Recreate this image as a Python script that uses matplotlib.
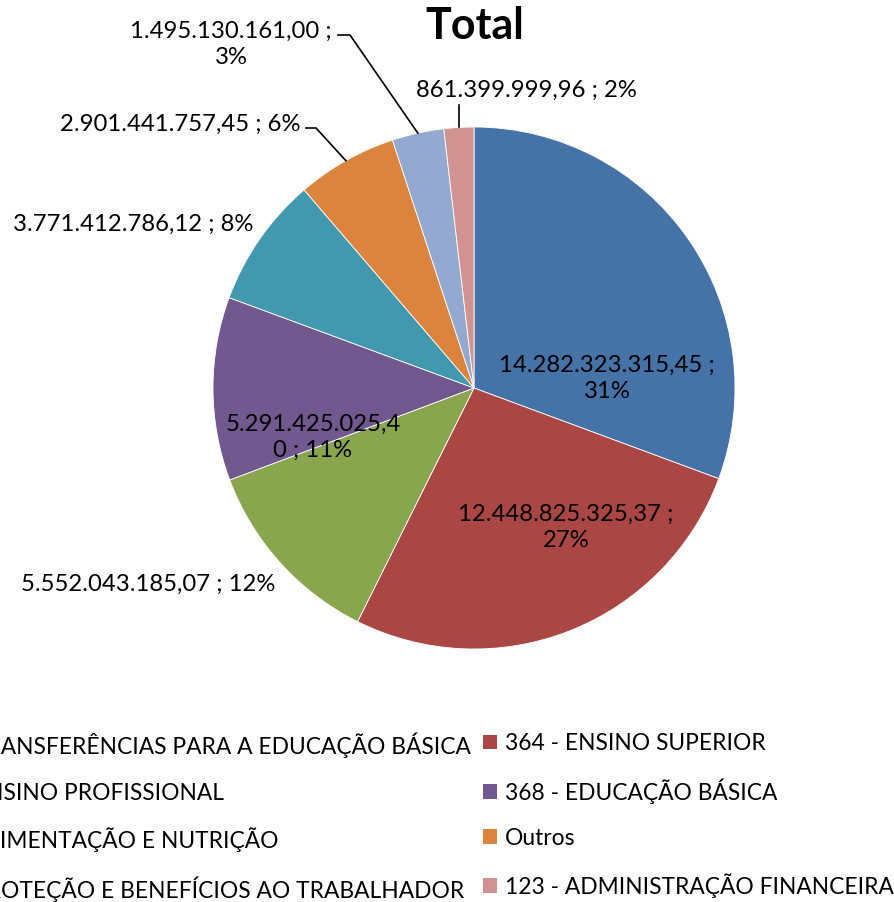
import matplotlib
matplotlib.use("Agg")
import matplotlib.pyplot as plt
from matplotlib.patches import Patch
import numpy as np

plt.rcParams['font.family'] = ['Lato', 'DejaVu Sans']

categories = [
    "847 - TRANSFERÊNCIAS PARA A EDUCAÇÃO BÁSICA",
    "364 - ENSINO SUPERIOR",
    "363 - ENSINO PROFISSIONAL",
    "368 - EDUCAÇÃO BÁSICA",
    "306 - ALIMENTAÇÃO E NUTRIÇÃO",
    "Outros",
    "331 - PROTEÇÃO E BENEFÍCIOS AO TRABALHADOR",
    "123 - ADMINISTRAÇÃO FINANCEIRA",
]
values = [14282323315.45, 12448825325.37, 5552043185.07, 5291425025.40,
          3771412786.12, 2901441757.45, 1495130161.00, 861399999.96]
value_labels = ["14.282.323.315,45 ;\n31%", "12.448.825.325,37 ;\n27%",
                "5.552.043.185,07 ; 12%", "5.291.425.025,4\n0 ; 11%",
                "3.771.412.786,12 ; 8%", "2.901.441.757,45 ; 6%",
                "1.495.130.161,00 ;\n3%", "861.399.999,96 ; 2%"]
colors = ['#4572A7', '#AA4643', '#89A54E', '#71588F',
          '#4198AF', '#DB843D', '#93A9CF', '#D19392']

W, H = 895, 902
fig = plt.figure(figsize=(W / 100, H / 100), dpi=100)
ax = fig.add_axes([0, 0, 1, 1])

def Y(py):
    return H - py

cx, cy, R = 474, Y(388), 261
wedges, _ = ax.pie(values, colors=colors, startangle=90, counterclock=False,
                   center=(cx, cy), radius=R, frame=True,
                   wedgeprops=dict(edgecolor='white', linewidth=0.6))
ax.set_xlim(0, W)
ax.set_ylim(0, H)
ax.set_aspect('equal')
ax.axis('off')

fs = 17.2
# label positions (pixel space) for each slice
label_pos = [(607, 378), (566, 527), (148, 584), (313, 437),
             (133, 224), (180, 124), (231, 44), (526, 90)]
for lab, (px, py) in zip(value_labels, label_pos):
    ax.text(px, Y(py), lab, ha='center', va='center', fontsize=fs,
            color='black', linespacing=1.3)

def edge_point(w):
    a = np.deg2rad((w.theta1 + w.theta2) / 2)
    return cx + R * np.cos(a), cy + R * np.sin(a)

# leader lines
ex, ey = edge_point(wedges[5])
ax.plot([306, 316, ex], [Y(128), Y(128), ey], color='black', lw=1.2)
ex, ey = edge_point(wedges[6])
ax.plot([338, 350, ex], [Y(35), Y(35), ey], color='black', lw=1.2)
ex, ey = edge_point(wedges[7])
ax.plot([ex, ex], [Y(105), ey], color='black', lw=1.2)

fig.text(475 / W, 1 - 26 / H, "Total", ha='center', va='center',
         fontsize=31, fontweight='bold')

lfs = 16.4
handles = [Patch(facecolor=c, edgecolor='none') for c in colors]
common = dict(frameon=False, fontsize=lfs, borderpad=0, borderaxespad=0,
              handlelength=0.62, handleheight=0.62, handletextpad=0.36,
              labelspacing=1.06, bbox_transform=ax.transData)
left_idx = [0, 2, 4, 6]
right_idx = [1, 3, 5, 7]
leg1 = ax.legend([handles[i] for i in left_idx], [categories[i] for i in left_idx],
                 loc='upper right', bbox_to_anchor=(471, Y(733)), **common)
ax.add_artist(leg1)
leg2 = ax.legend([handles[i] for i in right_idx], [categories[i] for i in right_idx],
                 loc='upper left', bbox_to_anchor=(483, Y(733)), **common)

fig.savefig("out.png", dpi=100)
